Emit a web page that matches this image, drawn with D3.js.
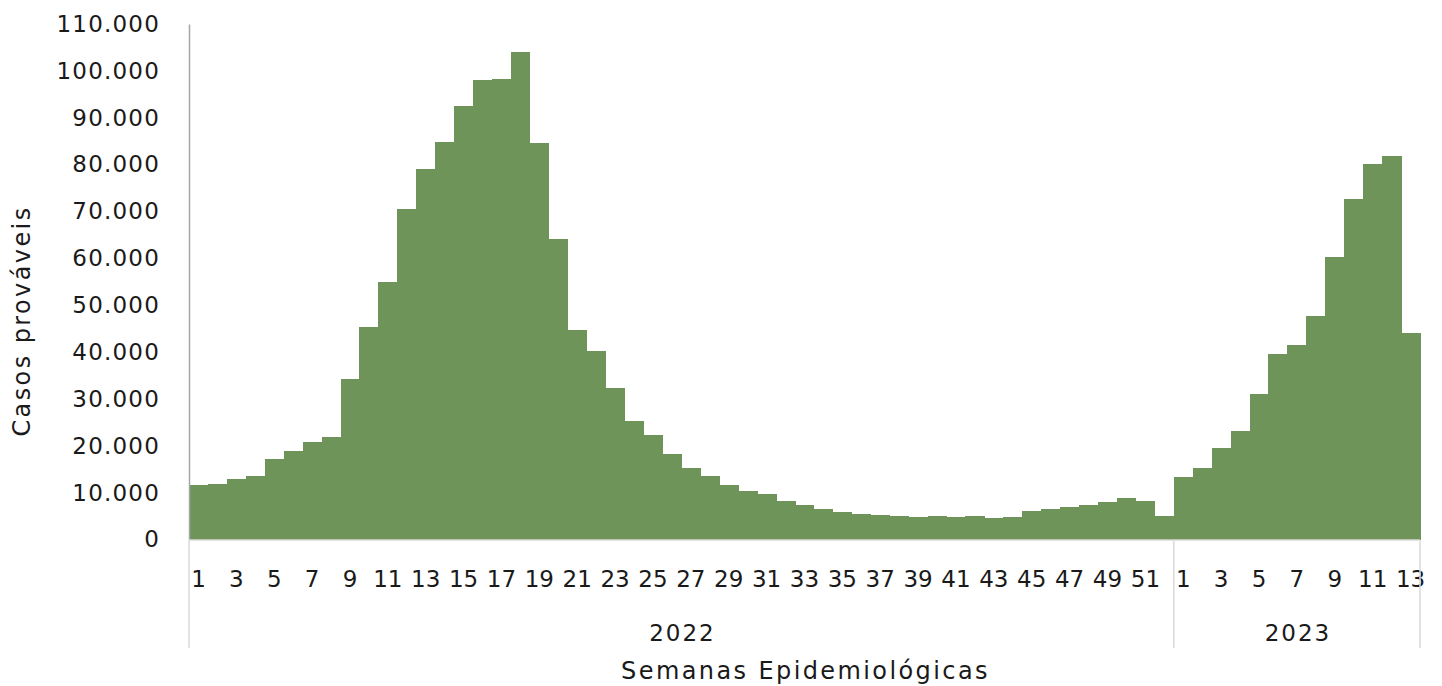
<!DOCTYPE html>
<html>
<head>
<meta charset="utf-8">
<script src="https://cdn.jsdelivr.net/npm/d3@7"></script>
<style>
  html, body { margin: 0; padding: 0; background: #ffffff; }
  svg text { font-family: "DejaVu Sans", sans-serif; fill: #1a1a1a; }
</style>
</head>
<body>
<svg id="chart" width="1442" height="686"></svg>
<script>
// ---- Data ----
const years = ["2022", "2023"];
const weeks2022 = d3.range(1, 53);
const weeks2023 = d3.range(1, 14);
const cases2022 = [11540, 11750, 12880, 13600, 17090, 18950, 20790, 21790, 34250, 45300,
  54980, 70580, 79120, 84890, 92460, 98080, 98220, 104120, 84550, 64040,
  44810, 40320, 32400, 25210, 22220, 18230, 15320, 13460, 11540, 10260,
  9680, 8270, 7260, 6410, 5770, 5480, 5270, 5060, 4850, 5060,
  4850, 4920, 4640, 4850, 6050, 6550, 6980, 7260, 7980, 8900,
  8190, 5060];
const cases2023 = [13310, 15240, 19510, 23140, 30980, 39600, 41450, 47650, 60190, 72650,
  80060, 81840, 44170];
const yTicks = [0, 10000, 20000, 30000, 40000, 50000, 60000, 70000, 80000, 90000, 100000, 110000];
const yTitle = "Casos prováveis";
const xTitle = "Semanas Epidemiológicas";

const data = [
  ...weeks2022.map((w, i) => ({ year: years[0], week: w, value: cases2022[i] })),
  ...weeks2023.map((w, i) => ({ year: years[1], week: w, value: cases2023[i] }))
];
data.forEach(d => d.key = d.year + "-" + d.week);

// ---- Layout ----
const plotL = 189, plotR = 1420, plotT = 24, plotB = 539.5;
const svg = d3.select("#chart");

const x = d3.scaleBand().domain(data.map(d => d.key)).range([plotL, plotR]).paddingInner(0).paddingOuter(0);
const y = d3.scaleLinear().domain([0, 110000]).range([plotB, plotT]);

const fmt = v => d3.format(",")(v).replace(/,/g, ".");

// bars
svg.append("g").attr("shape-rendering", "crispEdges")
  .selectAll("rect").data(data).join("rect")
  .attr("x", d => x(d.key))
  .attr("y", d => y(d.value))
  .attr("width", x.bandwidth() + 0.5)
  .attr("height", d => y(0) - y(d.value))
  .attr("fill", "#6f9459");

// y axis
const yAxis = svg.append("g").attr("transform", `translate(${plotL},0)`)
  .call(d3.axisLeft(y).tickValues(yTicks).tickSize(0).tickPadding(29).tickFormat(fmt));
yAxis.select(".domain").attr("stroke", "#a6a6a6").attr("stroke-width", 1.5);
yAxis.selectAll("text").attr("font-size", 23).attr("fill", "#1a1a1a")
  .attr("letter-spacing", 1.2)
  .style("font-family", '"DejaVu Sans", sans-serif');

// x axis line
svg.append("line").attr("x1", plotL).attr("x2", plotR).attr("y1", plotB + 0.5).attr("y2", plotB + 0.5)
  .attr("stroke", "#d9d9d9").attr("stroke-width", 1.5);

// x tick labels (odd weeks)
svg.append("g").selectAll("text").data(data.filter(d => d.week % 2 === 1)).join("text")
  .attr("x", d => x(d.key) + x.bandwidth() / 2)
  .attr("y", 587)
  .attr("text-anchor", "middle")
  .attr("font-size", 23)
  .text(d => d.week);

// year separators
const boundaries = [plotL, x(years[1] + "-1"), plotR];
svg.append("g").selectAll("line").data(boundaries).join("line")
  .attr("x1", d => d).attr("x2", d => d)
  .attr("y1", plotB + 1).attr("y2", 648)
  .attr("stroke", "#d9d9d9").attr("stroke-width", 1.5);

// year labels
const yearSpans = [[boundaries[0], boundaries[1]], [boundaries[1], boundaries[2]]];
svg.append("g").selectAll("text").data(years).join("text")
  .attr("x", (d, i) => (yearSpans[i][0] + yearSpans[i][1]) / 2 + 1)
  .attr("y", 641)
  .attr("text-anchor", "middle")
  .attr("font-size", 23)
  .attr("letter-spacing", 2)
  .text(d => d);

// axis titles
svg.append("text")
  .attr("x", (plotL + plotR) / 2 + 1).attr("y", 679)
  .attr("text-anchor", "middle").attr("font-size", 24)
  .attr("letter-spacing", 2.4)
  .text(xTitle);
svg.append("text")
  .attr("transform", "translate(30,321) rotate(-90)")
  .attr("text-anchor", "middle").attr("font-size", 24)
  .attr("letter-spacing", 2.4)
  .text(yTitle);
</script>
</body>
</html>
